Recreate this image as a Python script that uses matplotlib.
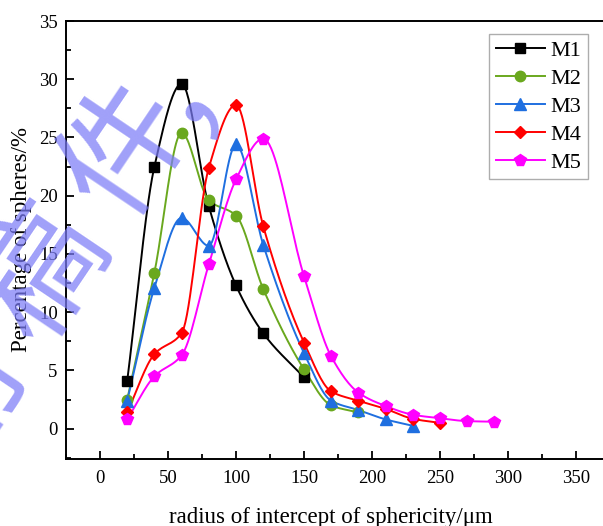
import numpy as np
import matplotlib.pyplot as plt
from matplotlib.lines import Line2D
from matplotlib.ticker import MultipleLocator

# data
x_m1 = [20, 40, 60, 80, 100, 120, 150]
y_m1 = [4.1, 22.5, 29.6, 19.1, 12.3, 8.2, 4.4]

x_m2 = [20, 40, 60, 80, 100, 120, 150, 170, 190]
y_m2 = [2.5, 13.4, 25.4, 19.6, 18.3, 12.0, 5.1, 2.0, 1.4]

x_m3 = [20, 40, 60, 80, 100, 120, 150, 170, 190, 210, 230]
y_m3 = [2.4, 12.1, 18.1, 15.7, 24.4, 15.8, 6.5, 2.4, 1.6, 0.8, 0.25]

x_m4 = [20, 40, 60, 80, 100, 120, 150, 170, 190, 210, 230, 250]
y_m4 = [1.4, 6.4, 8.2, 22.4, 27.8, 17.4, 7.4, 3.2, 2.4, 1.7, 0.85, 0.5]

x_m5 = [20, 40, 60, 80, 100, 120, 150, 170, 190, 210, 230, 250, 270, 290]
y_m5 = [0.8, 4.5, 6.3, 14.1, 21.4, 24.9, 13.1, 6.2, 3.1, 1.95, 1.2, 0.9, 0.65, 0.6]

labels = ["M1", "M2", "M3", "M4", "M5"]
colors = ["#000000", "#6aa81e", "#1f6fe0", "#ff0000", "#ff00ff"]
markers = ["s", "o", "^", "D", "p"]
msizes = [6.5, 7.5, 8, 6.5, 8.5]

watermark = "录用稿件，非最终出版稿"


def pchip(x, y, n=200):
    # monotone cubic hermite, used only to draw the smooth connecting line
    x = np.asarray(x, float)
    y = np.asarray(y, float)
    h = np.diff(x)
    d = np.diff(y) / h
    m = np.zeros_like(y)
    for k in range(1, len(x) - 1):
        if d[k - 1] * d[k] > 0:
            w1 = 2 * h[k] + h[k - 1]
            w2 = h[k] + 2 * h[k - 1]
            m[k] = (w1 + w2) / (w1 / d[k - 1] + w2 / d[k])
    m[0] = d[0]
    m[-1] = d[-1]
    xs = np.linspace(x[0], x[-1], n)
    idx = np.clip(np.searchsorted(x, xs) - 1, 0, len(x) - 2)
    t = (xs - x[idx]) / h[idx]
    h00 = 2 * t**3 - 3 * t**2 + 1
    h10 = t**3 - 2 * t**2 + t
    h01 = -2 * t**3 + 3 * t**2
    h11 = t**3 - t**2
    ys = h00 * y[idx] + h10 * h[idx] * m[idx] + h01 * y[idx + 1] + h11 * h[idx] * m[idx + 1]
    return xs, ys


plt.rcParams["font.family"] = ["Liberation Serif", "DejaVu Serif"]

W, H = 603, 526
fig = plt.figure(figsize=(W / 100, H / 100), dpi=100)
ax = fig.add_axes([66 / W, 1 - 459 / H, 544 / W, 438 / H])

series = [(x_m1, y_m1), (x_m2, y_m2), (x_m3, y_m3), (x_m4, y_m4), (x_m5, y_m5)]
handles = []
for (xs, ys), lab, c, mk, ms in zip(series, labels, colors, markers, msizes):
    sx, sy = pchip(xs, ys)
    ax.plot(sx, sy, color=c, lw=1.4, zorder=2)
    ax.plot(xs, ys, ls="none", marker=mk, ms=ms, color=c, zorder=3)
    handles.append(Line2D([], [], color=c, lw=1.4, marker=mk, ms=ms, label=lab))

ax.set_xlim(-25, 375)
ax.set_ylim(-2.6, 35)
ax.xaxis.set_minor_locator(MultipleLocator(25))
ax.yaxis.set_minor_locator(MultipleLocator(2.5))
ax.set_xticks(np.arange(0, 351, 50))
ax.set_yticks(np.arange(0, 36, 5))
ax.tick_params(which="both", direction="in", width=1.3, labelsize=13.5)
ax.tick_params(which="major", length=6)
ax.tick_params(which="minor", length=3.5)
ax.tick_params(axis="x", pad=8)
ax.tick_params(axis="y", pad=6)
for s in ax.spines.values():
    s.set_linewidth(1.4)

ax.set_xlabel("radius of intercept of sphericity/μm", fontsize=16.5)
ax.set_ylabel("Percentage of spheres/%", fontsize=16.5)
ax.xaxis.set_label_coords((331 - 66) / 544, -48 / 438)
ax.yaxis.set_label_coords((32 - 66) / 544, 0.5)

leg = ax.legend(handles=handles, loc="upper left", bbox_to_anchor=((489 - 66) / 544, 1 - 13 / 438),
                fontsize=16, frameon=True, fancybox=False, edgecolor="#999999",
                handlelength=2.2, handletextpad=0.25, labelspacing=0.33, borderpad=0.3,
                borderaxespad=0)
leg.get_frame().set_linewidth(1.0)

# diagonal watermark
ang = 56
d = np.array([np.cos(np.radians(ang)), np.sin(np.radians(ang))])
c0 = np.array([45, H - 275])
for k, ch in enumerate(watermark):
    cx, cy = c0 + (k - 2) * 150 * d
    if ch == "，":
        cx, cy = cx - 20, cy - 35
    fig.text(cx / W, cy / H, ch, fontsize=92, rotation=ang, rotation_mode="anchor",
             ha="center", va="center", color="#7b7bf7", alpha=0.72, zorder=10,
             family=["Noto Sans CJK SC"], fontweight="light")

fig.savefig("out.png", dpi=100)
